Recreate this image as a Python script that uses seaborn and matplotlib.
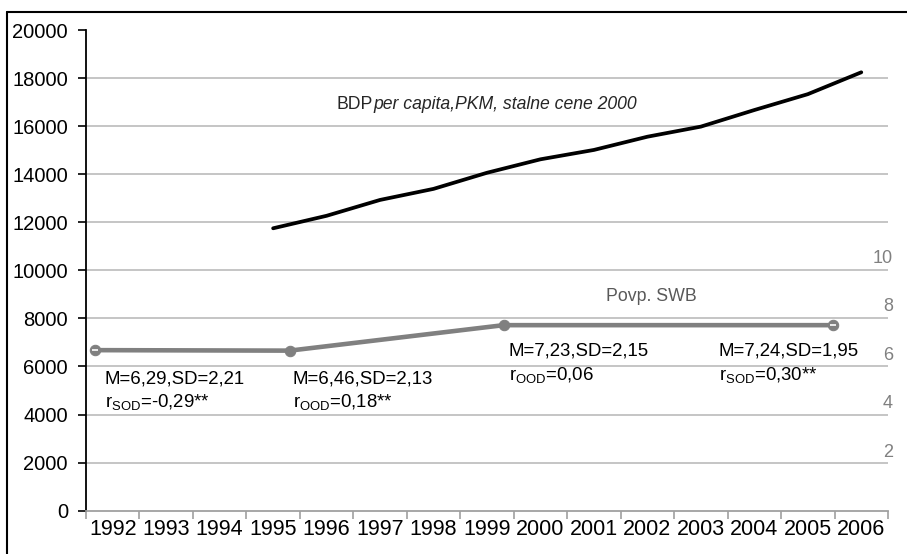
import matplotlib
matplotlib.use("Agg")
import matplotlib.pyplot as plt
import seaborn as sns
import pandas as pd
import numpy as np
from matplotlib.lines import Line2D

# ---------------- data ----------------
years = list(range(1992, 2007))
bdp_years = list(range(1995, 2007))
bdp_values = [11750, 12270, 12930, 13390, 14060, 14620, 15010, 15560, 15980, 16670, 17330, 18240]
swb_dates = [1991.66, 1995.31, 1999.31, 2005.48]
swb_values = [6.12, 6.10, 7.15, 7.15]
swb_stats = ["M=6,29,SD=2,21", "M=6,46,SD=2,13", "M=7,23,SD=2,15", "M=7,24,SD=1,95"]
swb_corr = [r"$\mathregular{r_{SOD}}$=-0,29**", r"$\mathregular{r_{OOD}}$=0,18**",
            r"$\mathregular{r_{OOD}}$=0,06", r"$\mathregular{r_{SOD}}$=0,30**"]
left_ticks = list(range(0, 20001, 2000))
right_ticks = [2, 4, 6, 8, 10]
bdp_label_main = "BDP"
bdp_label_it = "per capita,PKM, stalne cene 2000"
swb_label = "Povp. SWB"

# layout (text anchors: x in years, y in left-axis units)
stat_pos = [(1991.855, 5313, 4314), (1995.37, 5313, 4314),
            (1999.41, 6478, 5438), (2003.33, 6478, 5438)]

sns.set_theme(style="white")
plt.rcParams["font.family"] = ["Liberation Sans", "DejaVu Sans"]
plt.rcParams["mathtext.fontset"] = "custom"
plt.rcParams["mathtext.rm"] = "Liberation Sans"
plt.rcParams["axes.grid"] = False

fig = plt.figure(figsize=(9.07, 5.54), dpi=100)
ax = fig.add_axes([86 / 907, 1 - 510.7 / 554, (888 - 86) / 907, (510.7 - 30) / 554])
ax2 = ax.twinx()

bdp_df = pd.DataFrame({"year": bdp_years, "bdp": bdp_values})
swb_df = pd.DataFrame({"date": swb_dates, "swb": swb_values})

sns.lineplot(data=bdp_df, x="year", y="bdp", ax=ax, color="black", linewidth=2.7, zorder=3)
sns.lineplot(data=swb_df, x="date", y="swb", ax=ax2, color="#808080", linewidth=3.3,
             marker="o", markersize=7.5, markeredgecolor="#808080", zorder=3)
# small white dash artefacts in end markers
ends = swb_df.iloc[[0, -1]]
ax2.plot(ends["date"], ends["swb"], linestyle="none", marker="_", color="white",
         markersize=4, markeredgewidth=1.2, zorder=4)

# left axis
ax.set_ylim(0, 20000)
ax.set_yticks(left_ticks)
ax.set_yticklabels([str(t) for t in left_ticks])
ax.set_xlim(1991.5, 2006.5)
# boundaries as major ticks (marks only), years as minor ticks (labels only)
ax.set_xticks(np.arange(1991.5, 2007, 1))
ax.set_xticklabels([])
ax.set_xticks(years, minor=True)
ax.set_xticklabels([str(y) for y in years], minor=True)
ax.tick_params(axis="y", direction="out", length=6, width=1.2, color="black",
               labelsize=14.5, pad=7, labelcolor="black", left=True)
ax.tick_params(axis="x", which="minor", length=0, labelsize=15.5, pad=6, labelcolor="black",
               bottom=True, labelbottom=True)
ax.tick_params(axis="x", which="major", direction="out", length=6, width=1.2,
               color="#a0a0a0", bottom=True)
ax.set_xlabel("")
ax.set_ylabel("")
for s in ["top", "right"]:
    ax.spines[s].set_visible(False)
ax.spines["left"].set_color("black")
ax.spines["left"].set_linewidth(1.3)
ax.spines["bottom"].set_color("#a0a0a0")
ax.spines["bottom"].set_linewidth(1.3)

# right axis
ax2.set_ylim(-0.5, 19.32)
ax2.set_yticks(right_ticks)
ax2.set_yticklabels([str(t) for t in right_ticks])
ax2.tick_params(axis="y", length=0, pad=3.5, labelsize=13, labelcolor="#808080", right=True)
for lbl in ax2.get_yticklabels():
    lbl.set_horizontalalignment("right")
ax2.set_ylabel("")
for s in ["top", "right", "left", "bottom"]:
    ax2.spines[s].set_visible(False)

# grids: only horizontal lines of the left axis
ax.grid(False, which="both")
ax2.grid(False, which="both")
ax.yaxis.grid(True, which="major", color="#c0c0c0", linewidth=1.3)
for t in ax.xaxis.get_major_ticks() + ax.xaxis.get_minor_ticks():
    t.gridline.set_visible(False)
ygl = ax.get_ygridlines()
ygl[0].set_visible(False)
ygl[-1].set_visible(False)

# annotations
for (x, y1, y2), s1, s2 in zip(stat_pos, swb_stats, swb_corr):
    ax.text(x, y1, s1, fontsize=13.4, va="baseline", ha="left", color="black", zorder=5)
    ax.text(x, y2, s2, fontsize=13.4, va="baseline", ha="left", color="black", zorder=5)

t1 = ax.text(1996.19, 16713, bdp_label_main, fontsize=12.7, va="baseline", ha="left")
ax.annotate(bdp_label_it, xy=(1, 0), xycoords=t1, va="bottom", ha="left",
            fontsize=12.7, style="italic")
ax.text(2001.22, 8737, swb_label, fontsize=12.8, va="baseline", ha="left", color="#595959")

# frame (top & left edges of original chart border)
fy = 1 - 12 / 554
fx = 7 / 907
fig.add_artist(Line2D([fx, fx], [0, fy], transform=fig.transFigure, color="black", linewidth=1.5))
fig.add_artist(Line2D([fx, 1], [fy, fy], transform=fig.transFigure, color="black", linewidth=1.5))

fig.savefig("out.png", dpi=100)
